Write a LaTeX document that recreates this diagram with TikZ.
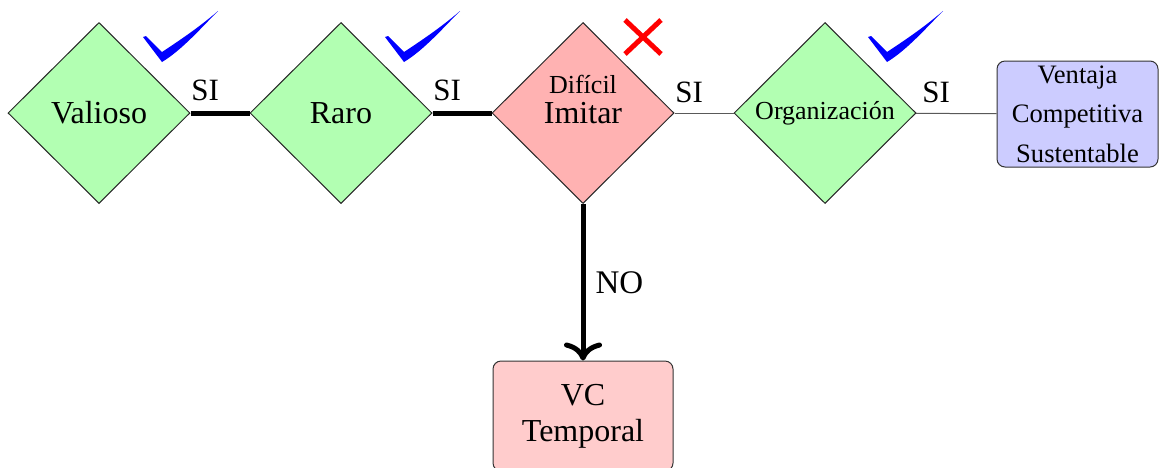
\documentclass[tikz,border=0pt]{standalone}
\usepackage{fontspec}
\setmainfont{Liberation Serif}
\usetikzlibrary{shapes.geometric,arrows.meta}
\begin{document}
\begin{tikzpicture}[x=0.5pt,y=-0.5pt,
  decision/.style={diamond, draw=black!85, line width=0.5pt,
    minimum width=91pt, minimum height=90.5pt, inner sep=0pt,
    font=\fontsize{16}{19}\selectfont},
  pass/.style={decision, fill=green!30},
  fail/.style={decision, fill=red!30},
  outcome/.style={rectangle, rounded corners=4pt, draw=black!80,
    line width=0.5pt, align=center, inner sep=0pt},
  strong/.style={line width=2.5pt},
  weak/.style={line width=0.5pt, draw=black!65},
  answer/.style={font=\fontsize{15.5}{18}\selectfont, pos=0.25, above, inner sep=5pt},
  okmark/.pic={\fill[blue] (-19,-25) -- (0,0)
      .. controls (20,-12) and (40,-35) .. (56,-51)
      .. controls (35,-33) and (15,-20) .. (0,-10) -- (-16,-26) -- cycle;},
  nomark/.pic={\draw[red, line width=2.5pt] (-18,-17) -- (18,17) (-18,17) -- (18,-17);}
]
\useasboundingbox (0,0) rectangle (1159,467);

% decision diamonds
\node[pass] (valioso) at (99,113) {Valioso};
\node[pass] (raro) at (341,113) {Raro};
\node[fail] (imitar) at (583,113) {Imitar};
\node[font=\fontsize{13}{15}\selectfont, anchor=base] (dificil) at (583,93) {Difícil};
\node[pass, font=\fontsize{13}{16}\selectfont] (organizacion) at (825,113) {Organización};

% outcomes
\node[outcome, fill=blue!20, minimum width=80.5pt, minimum height=53pt,
  font=\fontsize{13.3}{19.7}\selectfont] (ventaja) at (1077.5,114)
  {Ventaja\\Competitiva\\Sustentable};
\node[outcome, fill=red!20, minimum width=90pt, minimum height=55pt,
  font=\fontsize{16}{18}\selectfont] (vc) at (583,416) {VC\\Temporal};

% connectors
\draw[strong] (valioso) -- node[answer] {SI} (raro);
\draw[strong] (raro) -- node[answer] {SI} (imitar);
\draw[weak] (imitar) -- node[answer] {SI} (organizacion);
\draw[weak] (organizacion) -- node[answer] {SI} (ventaja);
\draw[strong, -{Computer Modern Rightarrow[length=9pt,width=19pt]}]
  (imitar) -- node[right, font=\fontsize{16.5}{19}\selectfont, inner sep=5pt] {NO} (vc);

% verdict marks
\pic at (162,62) {okmark};
\pic at (404,62) {okmark};
\pic at (887,62) {okmark};
\pic at (643,37) {nomark};
\end{tikzpicture}
\end{document}
